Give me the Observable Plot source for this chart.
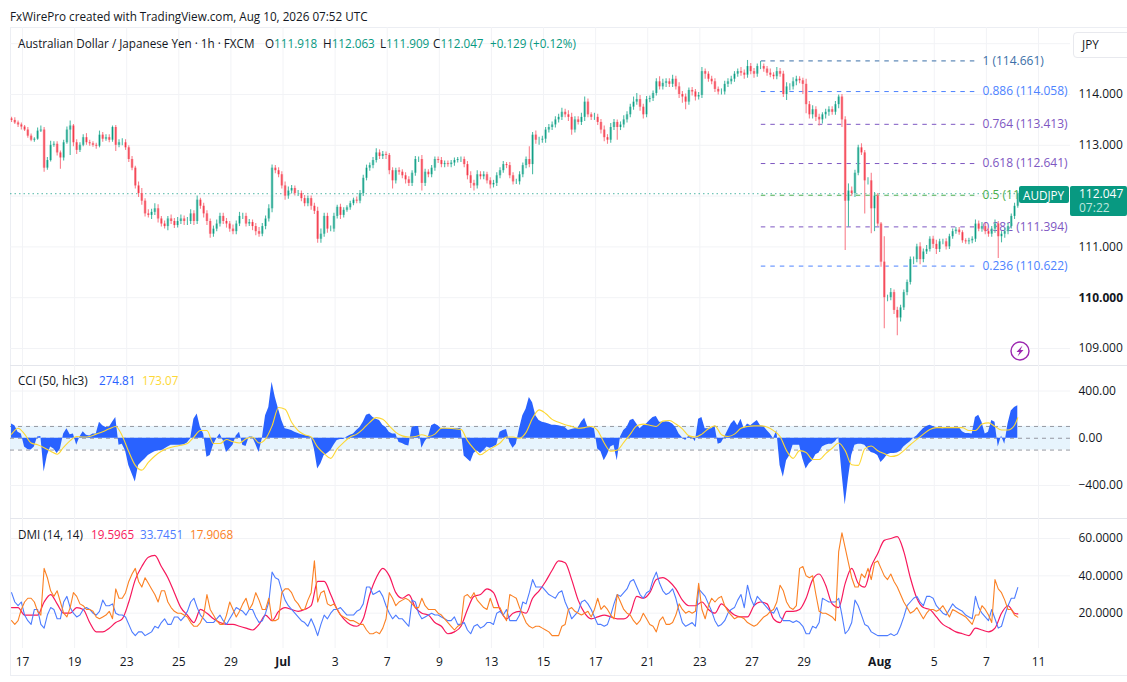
<!DOCTYPE html>
<html><head><meta charset="utf-8">
<script src="https://cdn.jsdelivr.net/npm/d3@7"></script>
<script src="https://cdn.jsdelivr.net/npm/@observablehq/plot@0.6"></script>
<style>
html,body{margin:0;padding:0;background:#fff;overflow:hidden}
#page{position:relative;width:1127px;height:682px;font-family:"Open Sans",sans-serif;font-size:11.7px;color:#131722}
.t{position:absolute;white-space:nowrap;line-height:16px}
.frame{position:absolute;background:#eceef3}
</style></head><body><div id="page"></div>
<script>
const closes=[
113.49,113.44,113.40,113.36,113.30,113.18,113.10,113.12,113.28,113.30,
112.55,112.70,113.00,113.02,112.85,112.75,113.05,113.30,113.38,113.05,
112.90,113.00,113.15,113.05,113.03,113.00,112.98,113.20,113.12,113.15,
113.10,113.35,113.00,113.05,113.05,112.95,112.72,112.55,112.20,112.05,
111.90,111.65,111.62,111.68,111.75,111.55,111.45,111.40,111.55,111.50,
111.42,111.50,111.55,111.50,111.50,111.65,111.50,111.92,111.80,111.65,
111.50,111.25,111.35,111.45,111.60,111.50,111.45,111.35,111.30,111.45,
111.60,111.60,111.45,111.48,111.40,111.30,111.25,111.40,111.55,111.75,
112.55,112.50,112.42,112.20,112.00,112.10,112.15,112.05,112.05,111.95,
111.85,111.95,111.80,111.70,111.15,111.25,111.60,111.35,111.35,111.60,
111.78,111.62,111.72,111.77,111.85,111.92,111.90,112.05,112.35,112.55,
112.60,112.70,112.85,112.78,112.82,112.80,112.50,112.30,112.50,112.47,
112.40,112.32,112.25,112.45,112.72,112.72,112.25,112.47,112.42,112.55,
112.72,112.70,112.62,112.64,112.62,112.65,112.70,112.72,112.72,112.62,
112.40,112.25,112.20,112.42,112.38,112.42,112.30,112.22,112.25,112.40,
112.50,112.62,112.60,112.40,112.28,112.28,112.42,112.60,112.72,112.62,
113.20,113.10,113.10,113.12,113.30,113.35,113.40,113.50,113.55,113.65,
113.60,113.55,113.30,113.50,113.45,113.55,113.85,113.60,113.55,113.55,
113.45,113.30,113.15,113.10,113.35,113.45,113.35,113.40,113.50,113.60,
113.75,113.85,113.90,113.75,113.60,113.90,113.92,114.02,114.25,114.15,
114.22,114.25,114.20,114.30,114.15,114.00,113.95,113.85,114.08,114.05,
113.95,113.98,114.45,114.40,114.30,114.25,114.10,114.05,114.05,114.20,
114.25,114.30,114.40,114.45,114.42,114.38,114.55,114.45,114.40,114.55,
114.55,114.50,114.42,114.38,114.35,114.45,114.40,114.00,114.15,114.15,
114.25,114.30,114.27,114.20,113.80,113.60,113.70,113.55,113.50,113.60,
113.65,113.70,113.65,113.80,113.95,113.50,111.90,112.10,112.05,112.45,
112.95,112.85,112.30,112.30,111.75,112.00,111.45,110.70,110.00,110.00,
110.10,109.75,109.60,109.80,110.10,110.30,110.75,110.75,111.00,110.75,
110.90,110.95,111.15,111.05,110.95,111.10,111.10,111.00,111.20,111.30,
111.33,111.28,111.12,111.10,111.12,111.15,111.45,111.35,111.40,111.30,
111.25,111.35,111.45,111.20,111.25,111.30,111.40,111.60,111.80,112.047];
const upperWicks=[
3,5,4,4,3,5,4,3,6,8, 5,6,8,5,5,4,5,6,10,3, 6,5,6,8,5,4,4,8,5,6, 6,3,4,6,8,6,4,6,4,8,
10,5,8,6,10,8,5,6,5,8, 6,8,8,6,8,8,6,8,4,6, 6,5,6,8,6,6,6,5,8,6, 8,6,6,6,5,6,8,6,6,8,
6,5,6,6,8,8,6,5,6,5, 6,5,5,6,8,10,6,6,6,6, 4,6,5,4,5,4,6,6,6,6, 5,6,8,6,6,5,4,6,5,6,
5,6,6,5,6,5,8,6,5,5, 5,5,6,5,5,5,5,4,5,5, 6,8,6,8,6,6,5,6,6,6, 6,6,4,6,6,5,6,5,5,25,
5,8,6,6,5,6,6,6,6,8, 6,8,8,6,6,8,10,6,4,8, 6,6,8,6,8,6,5,6,8,6, 6,10,12,8,6,6,5,5,6,10,
8,6,6,8,6,8,6,6,5,6, 5,6,8,5,5,6,6,5,6,6, 6,6,5,5,8,6,12,6,6,5, 10,5,5,8,5,8,6,6,8,6,
8,6,5,5,10,6,8,6,6,4, 6,6,6,6,4,5,6,14,8,6, 5,8,5,6,15,7,5,3,50,5, 8,5,6,5,5,5,5,5,5,8,
6,8,5,6,8,5,5,6,5,5, 5,5,4,4,5,5,8,6,8,6, 6,5,8,5,5,6,6,5,6,4];
const lowerWicks=[
4,3,5,6,3,4,3,4,2,3, 8,4,3,4,6,22,6,3,50,8, 8,4,3,5,5,4,6,3,6,4, 5,4,12,5,6,5,6,5,6,8,
8,6,5,8,6,8,6,5,8,6, 6,5,6,8,8,6,8,6,6,8, 8,8,6,5,6,6,8,6,6,6, 5,6,6,5,8,8,6,5,6,6,
8,6,6,6,8,6,6,5,6,6, 6,6,8,6,8,8,6,8,5,6, 5,8,5,4,5,4,5,5,6,5, 6,6,5,6,6,8,8,16,6,6,
6,8,6,6,6,6,15,6,6,6, 6,6,6,6,5,6,6,5,6,6, 8,10,10,6,6,6,6,8,6,6, 6,5,6,6,6,5,6,6,6,6,
20,8,10,6,8,6,6,6,6,6, 6,8,10,6,5,6,8,6,6,6, 6,8,8,8,6,6,25,6,6,6, 6,6,6,8,8,6,6,6,5,6,
6,8,6,6,6,8,12,15,6,8, 8,6,6,10,6,6,6,6,6,6, 6,6,6,6,6,8,6,6,8,6, 6,6,6,5,6,6,6,6,12,8,
6,8,6,20,18,8,8,8,12,8, 8,8,6,6,8,15,97,51,6,8, 5,5,65,8,49,45,5,10,61,8, 6,8,35,8,5,6,5,10,6,10,
6,5,5,8,10,6,6,6,5,5, 5,5,5,5,6,6,6,5,6,6, 6,6,8,43,12,8,6,5,6,4];
const cciValues=[
120,105,50,35,-75,-95,-100,-75,10,15,
-285,-145,-75,-90,-130,-90,35,80,30,35,
-60,10,55,25,20,35,35,135,105,90,
90,135,175,-60,-50,-105,-230,-300,-370,-230,
-200,-175,-145,-130,-115,-105,-105,-90,-75,-60,
-60,-60,-60,-55,-40,-5,160,205,90,35,
-160,-145,-60,-5,35,-20,-120,-90,-60,20,
50,-60,-70,10,10,-50,-120,-5,190,260,
475,345,245,150,80,75,65,50,40,30,
25,20,10,-90,-260,-215,-145,-130,-105,-60,
-20,-10,-10,10,25,35,65,90,135,195,
205,175,160,150,110,90,50,35,35,-35,
-45,-60,-65,90,100,100,-85,-30,10,105,
120,105,80,85,80,80,80,80,85,-150,
-175,-200,-130,-105,-130,-105,-75,-85,-75,-60,
50,65,75,-35,-85,-50,80,190,245,345,
300,190,150,135,130,120,110,110,105,100,
90,65,75,80,85,135,170,90,90,80,
-90,-115,-190,-140,-75,-60,-190,10,65,90,
150,160,120,80,105,120,150,175,185,135,
135,140,135,120,90,35,5,-20,20,10,
-30,160,175,80,80,80,105,-50,-40,10,
65,120,150,105,160,80,120,105,130,150,
105,100,65,35,-5,65,-230,-330,-190,-145,
-60,-60,-60,-175,-260,-215,-190,-140,-125,-75,
-60,-50,-50,-30,10,-290,-565,-340,-145,-60,
-50,-50,-60,-90,-120,-130,-145,-205,-175,-140,
-130,-130,-125,-110,-75,-50,-30,0,20,50,
80,100,110,100,90,85,80,85,90,90,
90,90,55,40,40,35,175,195,135,35,
50,150,135,-75,20,-50,120,230,260,275];
// Signal and ADX are smooth: one reading per two samples
const cciSignal=[
35,85,35,-40,-55,-80,-110,-135,-75,-20,
15,10,15,35,55,80,100,20,-115,-230,
-270,-205,-150,-110,-85,-70,-60,-45,10,65,
65,-45,-45,-10,-30,-40,-5,10,-40,-5,
105,260,245,135,65,30,10,-75,-130,-170,
-90,-35,10,35,80,135,175,160,105,50,
20,10,15,30,15,35,85,85,80,75,
-20,-90,-140,-105,-75,-40,10,10,0,50,
170,240,210,160,135,115,100,85,90,100,
65,-40,-110,-100,-35,35,105,120,110,100,
145,150,120,80,20,10,35,80,105,30,
15,35,85,100,105,105,95,65,15,-105,
-170,-105,-120,-180,-180,-130,-85,-40,-105,-225,
-230,-90,-65,-105,-130,-155,-145,-105,-55,-10,
35,75,90,90,90,90,90,65,65,120,
130,100,70,70,110,173];
const adx=[
23,23,19,19,19,26,30,25,20,20,
23,22,15,10,10,12,15,17,26,38,
45,50,51,45,39,31,23,19,15,22,
20,17,15,14,14,13,12,11,14,19,
16,21,23,22,21,22,24,37,37,30,
22,17,14,13,17,30,39,44,40,31,
28,30,23,20,19,15,13,9,10,13,
22,29,30,33,31,22,17,20,21,20,
28,32,37,43,48,47,38,27,20,17,
18,19,18,17,17,20,29,28,31,38,
39,37,33,27,24,24,26,22,20,25,
22,19,18,18,24,26,25,17,15,21,
21,22,28,38,41,35,25,23,36,44,
36,34,45,52,59,60,61,53,39,28,
23,22,18,14,12,10,9,8,12,11,
10,12,20,24,20,19.6];
const diPlus=[
31,26,24,26,19,16,14,22,22,14,
12,19,23,22,17,17,26,29,23,20,
18,19,22,23,22,20,19,21,27,24,
24,25,20,19,19,18,14,10,8,10,
10,8,9,10,13,12,15,17,14,14,
18,18,16,18,21,26,28,23,19,17,
15,15,15,17,19,16,14,17,20,23,
22,21,19,22,22,18,15,16,20,26,
42,39,38,32,27,24,22,20,18,16,
15,13,17,13,8,14,19,17,20,22,
22,23,21,19,19,19,21,22,25,34,
34,30,31,32,29,24,20,17,19,17,
17,15,13,27,26,20,17,18,19,20,
19,19,18,17,16,16,18,14,14,15,
11,9,13,14,12,13,15,15,14,20,
21,19,22,16,16,16,19,26,25,31,
38,34,34,34,32,30,29,28,31,32,
26,22,17,19,21,26,27,25,22,18,
14,14,13,14,19,25,30,29,31,33,
37,38,34,30,28,31,32,38,42,36,
32,30,31,33,28,21,15,13,14,15,
13,33,31,29,25,21,16,13,14,16,
20,22,23,27,30,23,35,28,24,29,
27,25,23,21,20,23,18,16,16,16,
15,16,15,13,9,9,13,12,15,28,
27,26,26,26,28,19,9,11,15,27,
24,19,14,13,10,9,8,8,8,8,
9,8,9,13,18,24,26,28,29,26,
24,29,29,28,24,22,20,19,22,25,
23,22,21,19,18,17,29,23,20,18,
16,22,17,12,13,19,24,28,28,33.7];
const diMinus=[
16,14,16,22,26,28,28,26,21,19,
44,39,32,29,32,26,20,18,23,31,
29,25,24,22,22,21,18,17,18,19,
21,17,33,28,28,31,37,41,44,37,
34,39,36,33,30,26,32,32,26,23,
21,20,20,19,18,15,13,13,15,19,
30,22,19,16,14,14,19,26,22,18,
21,25,28,22,25,31,27,22,22,28,
16,16,17,31,33,33,31,27,25,22,
22,27,31,48,26,31,32,25,24,25,
22,19,18,17,16,16,15,14,14,11,
9,9,10,9,12,17,31,28,24,26,
27,28,27,25,23,23,28,24,22,22,
22,20,19,17,15,13,11,13,14,29,
30,28,31,27,25,23,22,28,23,23,
23,19,16,30,29,28,23,19,15,13,
12,13,13,12,11,10,8,8,8,13,
14,22,23,21,20,19,20,21,18,22,
28,22,24,22,19,17,30,26,22,20,
19,16,14,16,20,17,14,13,10,16,
18,14,14,15,19,25,22,20,21,20,
21,36,22,17,24,28,26,28,29,24,
21,19,17,18,18,17,15,14,13,14,
16,18,19,21,22,26,35,32,26,23,
22,24,44,45,40,39,40,30,21,20,
20,19,18,16,53,63,55,47,39,34,
34,41,39,44,38,47,48,44,40,38,
41,37,34,30,26,23,20,21,23,20,
17,20,22,22,21,22,24,21,18,22,
21,20,19,18,16,14,19,19,24,22,
19,15,38,33,31,27,22,22,19,17.9];
const tickDays=[0,2,4,6,8,10,12,14,16,18,20,22,24,26,28,30,32.9,35,37,39];
const tickLabels=["17","19","23","25","29","Jul","3","7","9","13","15","17","21","23","27","29","Aug","5","7","11"];
const monthDays=[10,32.9];
const priceTicks=[114,113,111,109];
const priceTicksBold=[110];
const priceGrid=[115,114,113,112,111,110,109];
const cciTicks=[400,0,-400];
const cciLevels=[100,0,-100];
const dmiTicks=[60,40,20];
const fibValues=[114.661,114.058,113.413,112.641,112.017,111.394,110.622];
const fibLabels=["1 (114.661)","0.886 (114.058)","0.764 (113.413)","0.618 (112.641)","0.5 (11","0.382 (111.394)","0.236 (110.622)"];
const fibColors=["#3a6fa8","#4d83ff","#7e57c2","#7e57c2","#4caf50","#7e57c2","#4d83ff"];
const lastPrice=112.047;

const barsPerDay=8, firstDay=-0.42;
const day=i=>firstDay+Math.min(i,closes.length-1)/barsPerDay;
const bars=closes.map((c,i)=>{
  const o=i?closes[i-1]:c+0.03;
  return {d:day(i),o,c,h:Math.max(o,c)+upperWicks[i]/100,l:Math.min(o,c)-lowerWicks[i]/100,up:c>=o};
});
const fib=fibValues.map((v,i)=>({v,color:fibColors[i],label:fibLabels[i]}));
const fibStart=28.36, fibEnd=36.58, fibText=36.85;
const cci=cciValues.map((v,i)=>({d:day(i),v}));
const sig=cciSignal.map((v,i)=>({d:day(2*i),v}));
const adxS=adx.map((v,i)=>({d:day(2*i),v}));
const plusS=diPlus.map((v,i)=>({d:day(i),v}));
const minusS=diMinus.map((v,i)=>({d:day(i),v}));

const FONT='"Open Sans",sans-serif';
const AXIS="#131722", GRID="#f2f3f6";
const xScale={domain:[0,39],range:[22,1038]};
const base={width:1127,marginLeft:10,marginRight:57,marginTop:0,style:{fontFamily:FONT,fontSize:"12px",color:AXIS,background:"transparent",overflow:"visible"}};
const vgrid=()=>Plot.ruleX(tickDays,{stroke:GRID,strokeWidth:1});
const yAxis=(ticks,fmt,extra={})=>Plot.axisY(ticks,{anchor:"right",tickSize:0,tickPadding:8,tickFormat:fmt,label:null,...extra});
const tickText=d=>tickLabels[tickDays.indexOf(d)];

const UP_L="#8fd6c8",DN_L="#fb9aa4",UP="#089981",DN="#f23645";
const price=Plot.plot({...base,height:338,marginBottom:0,x:{...xScale,axis:null},
  y:{domain:[114,109],range:[67,321]},
  marks:[
    vgrid(),
    Plot.ruleY(priceGrid,{stroke:GRID}),
    Plot.ruleY([lastPrice],{stroke:UP,strokeOpacity:.7,strokeDasharray:"1.5,3",strokeWidth:1}),
    Plot.ruleY(fib,{y:"v",x1:()=>fibStart,x2:()=>fibEnd,stroke:"color",strokeDasharray:"4.5,5",strokeWidth:1}),
    Plot.text(fib,{y:"v",x:()=>fibText,text:"label",fill:"color",textAnchor:"start",fontSize:12}),
    Plot.ruleX(bars,{x:"d",y1:"l",y2:"h",stroke:d=>d.up?"#4dbba6":"#f9808c",strokeWidth:1.1}),
    Plot.ruleX(bars,{x:"d",y1:"o",y2:"c",stroke:d=>d.up?UP_L:DN_L,strokeWidth:2.6}),
    Plot.ruleX(bars,{x:"d",y1:"o",y2:"c",stroke:d=>d.up?UP:DN,strokeWidth:1}),
    yAxis(priceTicks,d3.format(".3f")),
    yAxis(priceTicksBold,d3.format(".3f"),{fontWeight:"bold"})
  ]});
const cciPlot=Plot.plot({...base,height:153,marginBottom:0,x:{...xScale,axis:null},
  y:{domain:[400,-400],range:[25.5,120]},
  marks:[
    vgrid(),
    Plot.ruleY(cciTicks,{stroke:GRID}),
    Plot.rectY([0],{y1:()=>-100,y2:()=>100,fill:"#e3f2fd",fillOpacity:.85}),
    Plot.ruleY(cciLevels,{stroke:"#9598a1",strokeDasharray:"4,4",strokeWidth:1}),
    Plot.areaY(cci,{x:"d",y1:()=>0,y2:"v",fill:"#2962ff"}),
    Plot.lineY(sig,{x:"d",y:"v",stroke:"#fdd835",strokeWidth:1.1,curve:"monotone-x"}),
    yAxis(cciTicks,d3.format(".2f"))
  ]});
const dmiPlot=Plot.plot({...base,height:157,marginBottom:27,x:xScale,
  y:{domain:[60,20],range:[20,94.7]},
  marks:[
    vgrid(),
    Plot.ruleY(dmiTicks,{stroke:GRID}),
    Plot.lineY(adxS,{x:"d",y:"v",stroke:"#f7185c",strokeWidth:1.2,curve:"monotone-x"}),
    Plot.lineY(plusS,{x:"d",y:"v",stroke:"#4d7cff",strokeWidth:1.1}),
    Plot.lineY(minusS,{x:"d",y:"v",stroke:"#fb8124",strokeWidth:1.1}),
    yAxis(dmiTicks,d3.format(".4f")),
    Plot.axisX(tickDays.filter(d=>!monthDays.includes(d)),{anchor:"bottom",tickSize:0,tickPadding:9,label:null,tickFormat:tickText}),
    Plot.axisX(monthDays,{anchor:"bottom",tickSize:0,tickPadding:9,label:null,fontWeight:"bold",tickFormat:tickText})
  ]});

const page=document.getElementById("page");
function box(css,cls="frame"){const e=document.createElement("div");e.className=cls;e.style.cssText=css;page.appendChild(e);return e}
function text(x,y,html,color,extra=""){const e=box(`left:${x}px;top:${y-8}px;${color?`color:${color};`:""}${extra}`,"t");e.innerHTML=html;return e}
// frame lines
box("left:10px;top:27px;width:1px;height:648px");
box("left:10px;top:27px;width:1117px;height:1px");
box("left:10px;top:365px;width:1117px;height:1px;background:#e4e6ec");
box("left:10px;top:518px;width:1117px;height:1px;background:#e4e6ec");
box("left:10px;top:675px;width:1117px;height:1px");
[[price,27],[cciPlot,365],[dmiPlot,518]].forEach(([p,t])=>{p.style.position="absolute";p.style.left="0";p.style.top=t+"px";page.appendChild(p)});
// header and legends
text(10,16,"FxWirePro created with TradingView.com, Aug 10, 2026 07:52 UTC");
const teal="#089981";
text(18,43,"Australian Dollar / Japanese Yen · 1h · FXCM");
text(265,43,`O<span style="color:${teal}">111.918</span>`);
text(323,43,`H<span style="color:${teal}">112.063</span>`);
text(380,43,`L<span style="color:${teal}">111.909</span>`);
text(433,43,`C<span style="color:${teal}">112.047</span>`);
text(490,43,"+0.129 (+0.12%)",teal);
text(18,380,"CCI (50, hlc3)");
text(99,380,"274.81","#2962ff");
text(142,380,"173.07","#fdd835");
text(18,534,"DMI (14, 14)");
text(91,534,"19.5965","#f7185c");
text(140,534,"33.7451","#4d7cff");
text(190,534,"17.9068","#fb8124");
// JPY box
box("left:1073px;top:32px;width:56px;height:24px;border:1px solid #e8e9ee;border-radius:4px;background:#fff","t");
text(1082,44,"JPY");
// last price tags
box(`left:1019px;top:186px;width:50px;height:16.5px;background:${teal};border-radius:2px`,"t");
text(1023,194.5,"AUDJPY","#fff");
box(`left:1070px;top:186px;width:56.5px;height:30px;background:${teal};border-radius:2px`,"t");
text(1079,194,"112.047","#fff","line-height:13px;margin-top:1px;font-size:12px;");
text(1079,208,"07:22","#bfe6de","line-height:13px;margin-top:1px;font-size:12px;");
// alert icon
const ic=box("left:1010px;top:341px;width:20px;height:20px","t");
ic.innerHTML='<svg width="20" height="20" viewBox="0 0 20 20"><circle cx="10" cy="10" r="9" fill="#fff" stroke="#9c27b0" stroke-width="1.4"/><path d="M12.5 4.5 6.5 11h3l-2 4.5 6-6.5h-3z" fill="#9c27b0"/></svg>';
</script></body></html>
